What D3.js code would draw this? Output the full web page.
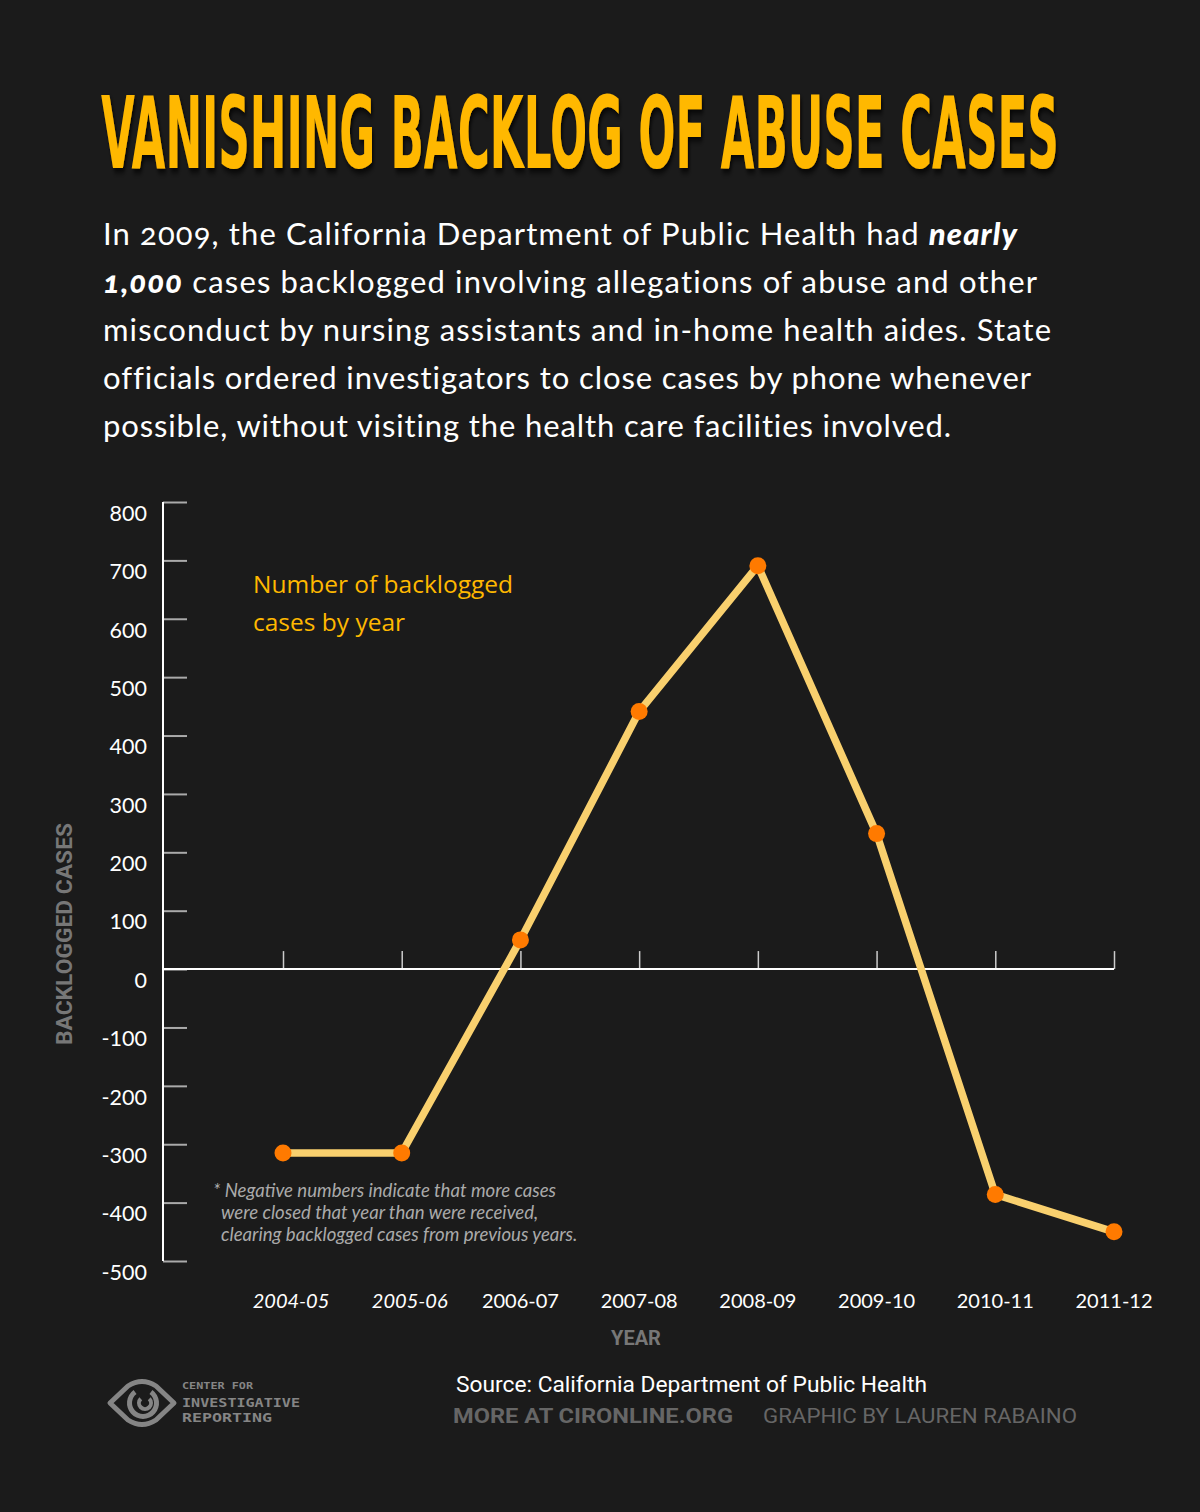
<!DOCTYPE html>
<html>
<head>
<meta charset="utf-8">
<script src="https://cdn.jsdelivr.net/npm/d3@7"></script>
<style>
  html, body { margin: 0; padding: 0; background: #1b1b1b; }
  svg { display: block; }
</style>
</head>
<body>
<svg id="chart" width="1200" height="1512"></svg>
<script>
// ---- data ----
const years = ["2004-05", "2005-06", "2006-07", "2007-08", "2008-09", "2009-10", "2010-11", "2011-12"];
const backlog = [-315, -315, 50, 441, 691, 232, -386, -450];
const yTicks = [800, 700, 600, 500, 400, 300, 200, 100, 0, -100, -200, -300, -400, -500];

const titleText = "VANISHING BACKLOG OF ABUSE CASES";
const introLines = [
  [["In 2009, the California Department of Public Health had ", false], ["nearly", true]],
  [["1,000", true], [" cases backlogged involving allegations of abuse and other", false]],
  [["misconduct by nursing assistants and in-home health aides. State", false]],
  [["officials ordered investigators to close cases by phone whenever", false]],
  [["possible, without visiting the health care facilities involved.", false]]
];
const introWidths = [914, 934, 948, 928, 848];
const annotationLines = ["Number of backlogged", "cases by year"];
const footnoteLines = ["* Negative numbers indicate that more cases", "were closed that year than were received,", "clearing backlogged cases from previous years."];
const sourceText = "Source: California Department of Public Health";
const moreText = "MORE AT CIRONLINE.ORG";
const creditText = "GRAPHIC BY LAUREN RABAINO";
const logoLines = ["CENTER FOR", "INVESTIGATIVE", "REPORTING"];

// ---- drawing ----
const svg = d3.select("#chart");
svg.append("rect").attr("width", 1200).attr("height", 1512).attr("fill", "#1b1b1b");

const defs = svg.append("defs");
const f = defs.append("filter").attr("id", "shadow").attr("x", "-5%").attr("y", "-20%").attr("width", "110%").attr("height", "150%");
f.append("feDropShadow").attr("dx", 3).attr("dy", 4).attr("stdDeviation", 3).attr("flood-color", "#000").attr("flood-opacity", 0.8);

// Title (measured, then horizontally scaled to the target width)
const title = svg.append("text")
  .attr("font-family", "'Liberation Sans Narrow', 'DejaVu Sans Condensed', Roboto, sans-serif")
  .attr("font-weight", "bold").attr("font-size", 100)
  .attr("fill", "#FFB800").attr("filter", "url(#shadow)")
  .text(titleText);
const tw = title.node().getComputedTextLength();
title.attr("transform", `translate(101,168) scale(${958 / tw},1)`);

// Intro paragraph
const intro = svg.append("g").attr("font-family", "Lato, 'Open Sans', sans-serif").attr("font-size", 31).attr("fill", "#ffffff")
  .style("font-variant-numeric", "oldstyle-nums").style("font-variant-ligatures", "none");
introLines.forEach((line, i) => {
  const t = intro.append("text").attr("x", 103).attr("y", 245 + i * 48)
    .attr("textLength", introWidths[i]).attr("lengthAdjust", "spacing");
  line.forEach(([s, b]) => {
    const ts = t.append("tspan").text(s);
    if (b) ts.attr("font-weight", "900").attr("font-style", "italic");
  });
});

// Scales
const y = d3.scaleLinear().domain([-500, 800]).range([1261, 502]);
const x = d3.scalePoint().domain(years).range([283, 1114]);

// Y axis
const yAxis = d3.axisLeft(y).tickValues(yTicks).tickSizeInner(-24).tickSizeOuter(0).tickPadding(16).tickFormat(d => String(d));
const gy = svg.append("g").attr("transform", "translate(163,0)").call(yAxis);
gy.select(".domain").remove();
gy.selectAll(".tick line").attr("stroke", "#aaaaaa").attr("stroke-width", 2);
gy.selectAll(".tick text").attr("fill", "#ffffff").attr("font-family", "Lato, sans-serif").attr("font-size", 21.5).attr("dy", "0.85em");
svg.append("line").attr("x1", 163).attr("x2", 163).attr("y1", y(800)).attr("y2", y(-500)).attr("stroke", "#ffffff").attr("stroke-width", 2);

// X axis at zero
const xAxis = d3.axisTop(x).tickSizeInner(18).tickSizeOuter(0).tickFormat("");
const gx = svg.append("g").attr("transform", `translate(0,${y(0)})`).call(xAxis);
gx.select(".domain").remove();
gx.selectAll(".tick line").attr("stroke", "#cccccc").attr("stroke-width", 1.5);
svg.append("line").attr("x1", 163).attr("x2", x(years[years.length - 1])).attr("y1", y(0)).attr("y2", y(0)).attr("stroke", "#ffffff").attr("stroke-width", 2);

// X labels
svg.append("g").selectAll("text").data(years).join("text")
  .attr("x", (d, i) => x(d) + (i < 2 ? 8 : 0)).attr("y", 1308)
  .attr("text-anchor", "middle")
  .attr("font-family", "Lato, sans-serif").attr("font-size", 20).attr("fill", "#ffffff")
  .attr("font-style", (d, i) => i < 2 ? "italic" : "normal")
  .text(d => d);

// Axis titles
svg.append("text").attr("x", 636).attr("y", 1345).attr("text-anchor", "middle")
  .attr("font-family", "Roboto, sans-serif").attr("font-weight", "bold").attr("font-size", 20).attr("fill", "#777777")
  .text("YEAR");
svg.append("text").attr("transform", "translate(72,934) rotate(-90)").attr("text-anchor", "middle")
  .attr("textLength", 222).attr("lengthAdjust", "spacingAndGlyphs")
  .attr("font-family", "Roboto, sans-serif").attr("font-weight", "bold").attr("font-size", 22).attr("fill", "#777777")
  .text("BACKLOGGED CASES");

// Line
const line = d3.line().x((d, i) => x(years[i])).y(d => y(d));
svg.append("path").datum(backlog).attr("d", line)
  .attr("fill", "none").attr("stroke", "#F9D06E").attr("stroke-width", 7.5)
  .attr("stroke-linejoin", "round");
svg.append("g").selectAll("circle").data(backlog).join("circle")
  .attr("cx", (d, i) => x(years[i])).attr("cy", d => y(d)).attr("r", 8.5)
  .attr("fill", "#FF7A00");

// Annotation
svg.append("g").selectAll("text").data(annotationLines).join("text")
  .attr("x", 253).attr("y", (d, i) => 593 + i * 38)
  .attr("font-family", "'Open Sans', Lato, sans-serif").attr("font-size", 24.5).attr("fill", "#FFB800")
  .text(d => d);

// Footnote
svg.append("g").selectAll("text").data(footnoteLines).join("text")
  .attr("x", (d, i) => i === 0 ? 213 : 221).attr("y", (d, i) => 1197 + i * 22)
  .attr("font-family", "Lato, sans-serif").attr("font-style", "italic").attr("font-size", 18.6).attr("fill", "#aaaaaa")
  .text(d => d);

// Footer text
svg.append("text").attr("x", 456).attr("y", 1392)
  .attr("textLength", 471).attr("lengthAdjust", "spacingAndGlyphs")
  .attr("font-family", "Roboto, sans-serif").attr("font-size", 22).attr("fill", "#ffffff")
  .text(sourceText);
svg.append("text").attr("x", 453).attr("y", 1423)
  .attr("textLength", 280).attr("lengthAdjust", "spacingAndGlyphs")
  .attr("font-family", "Roboto, sans-serif").attr("font-weight", "bold").attr("font-size", 20).attr("fill", "#666666")
  .text(moreText);
svg.append("text").attr("x", 763).attr("y", 1423)
  .attr("textLength", 314).attr("lengthAdjust", "spacingAndGlyphs")
  .attr("font-family", "Roboto, sans-serif").attr("font-size", 20).attr("fill", "#666666")
  .text(creditText);

// Logo
const logo = svg.append("g").attr("fill", "none").attr("stroke", "#858585");
logo.append("path").attr("d", "M110,1403 L128,1386 Q142,1377 156,1386 L174,1403 L156,1420 Q142,1429 128,1420 Z").attr("stroke-width", 5).attr("stroke-linejoin", "round");
const arcOuter = d3.arc().innerRadius(11).outerRadius(16).startAngle(Math.PI * 0.2).endAngle(Math.PI * 1.8);
const arcInner = d3.arc().innerRadius(4).outerRadius(8).startAngle(Math.PI * 0.25).endAngle(Math.PI * 1.75);
logo.append("path").attr("d", arcOuter()).attr("transform", "translate(143,1403)").attr("fill", "#858585").attr("stroke", "none");
logo.append("path").attr("d", arcInner()).attr("transform", "translate(145,1403)").attr("fill", "#858585").attr("stroke", "none");
const logoY = [1389, 1407, 1422];
const logoSize = [9, 13, 13];
const logoW = [71, 118, 90];
svg.append("g").selectAll("text").data(logoLines).join("text")
  .attr("x", 182).attr("y", (d, i) => logoY[i])
  .attr("textLength", (d, i) => logoW[i]).attr("lengthAdjust", "spacingAndGlyphs")
  .attr("font-family", "'DejaVu Sans Mono', monospace").attr("font-weight", "bold")
  .attr("font-size", (d, i) => logoSize[i]).attr("fill", "#858585")
  .text(d => d);
</script>
</body>
</html>
